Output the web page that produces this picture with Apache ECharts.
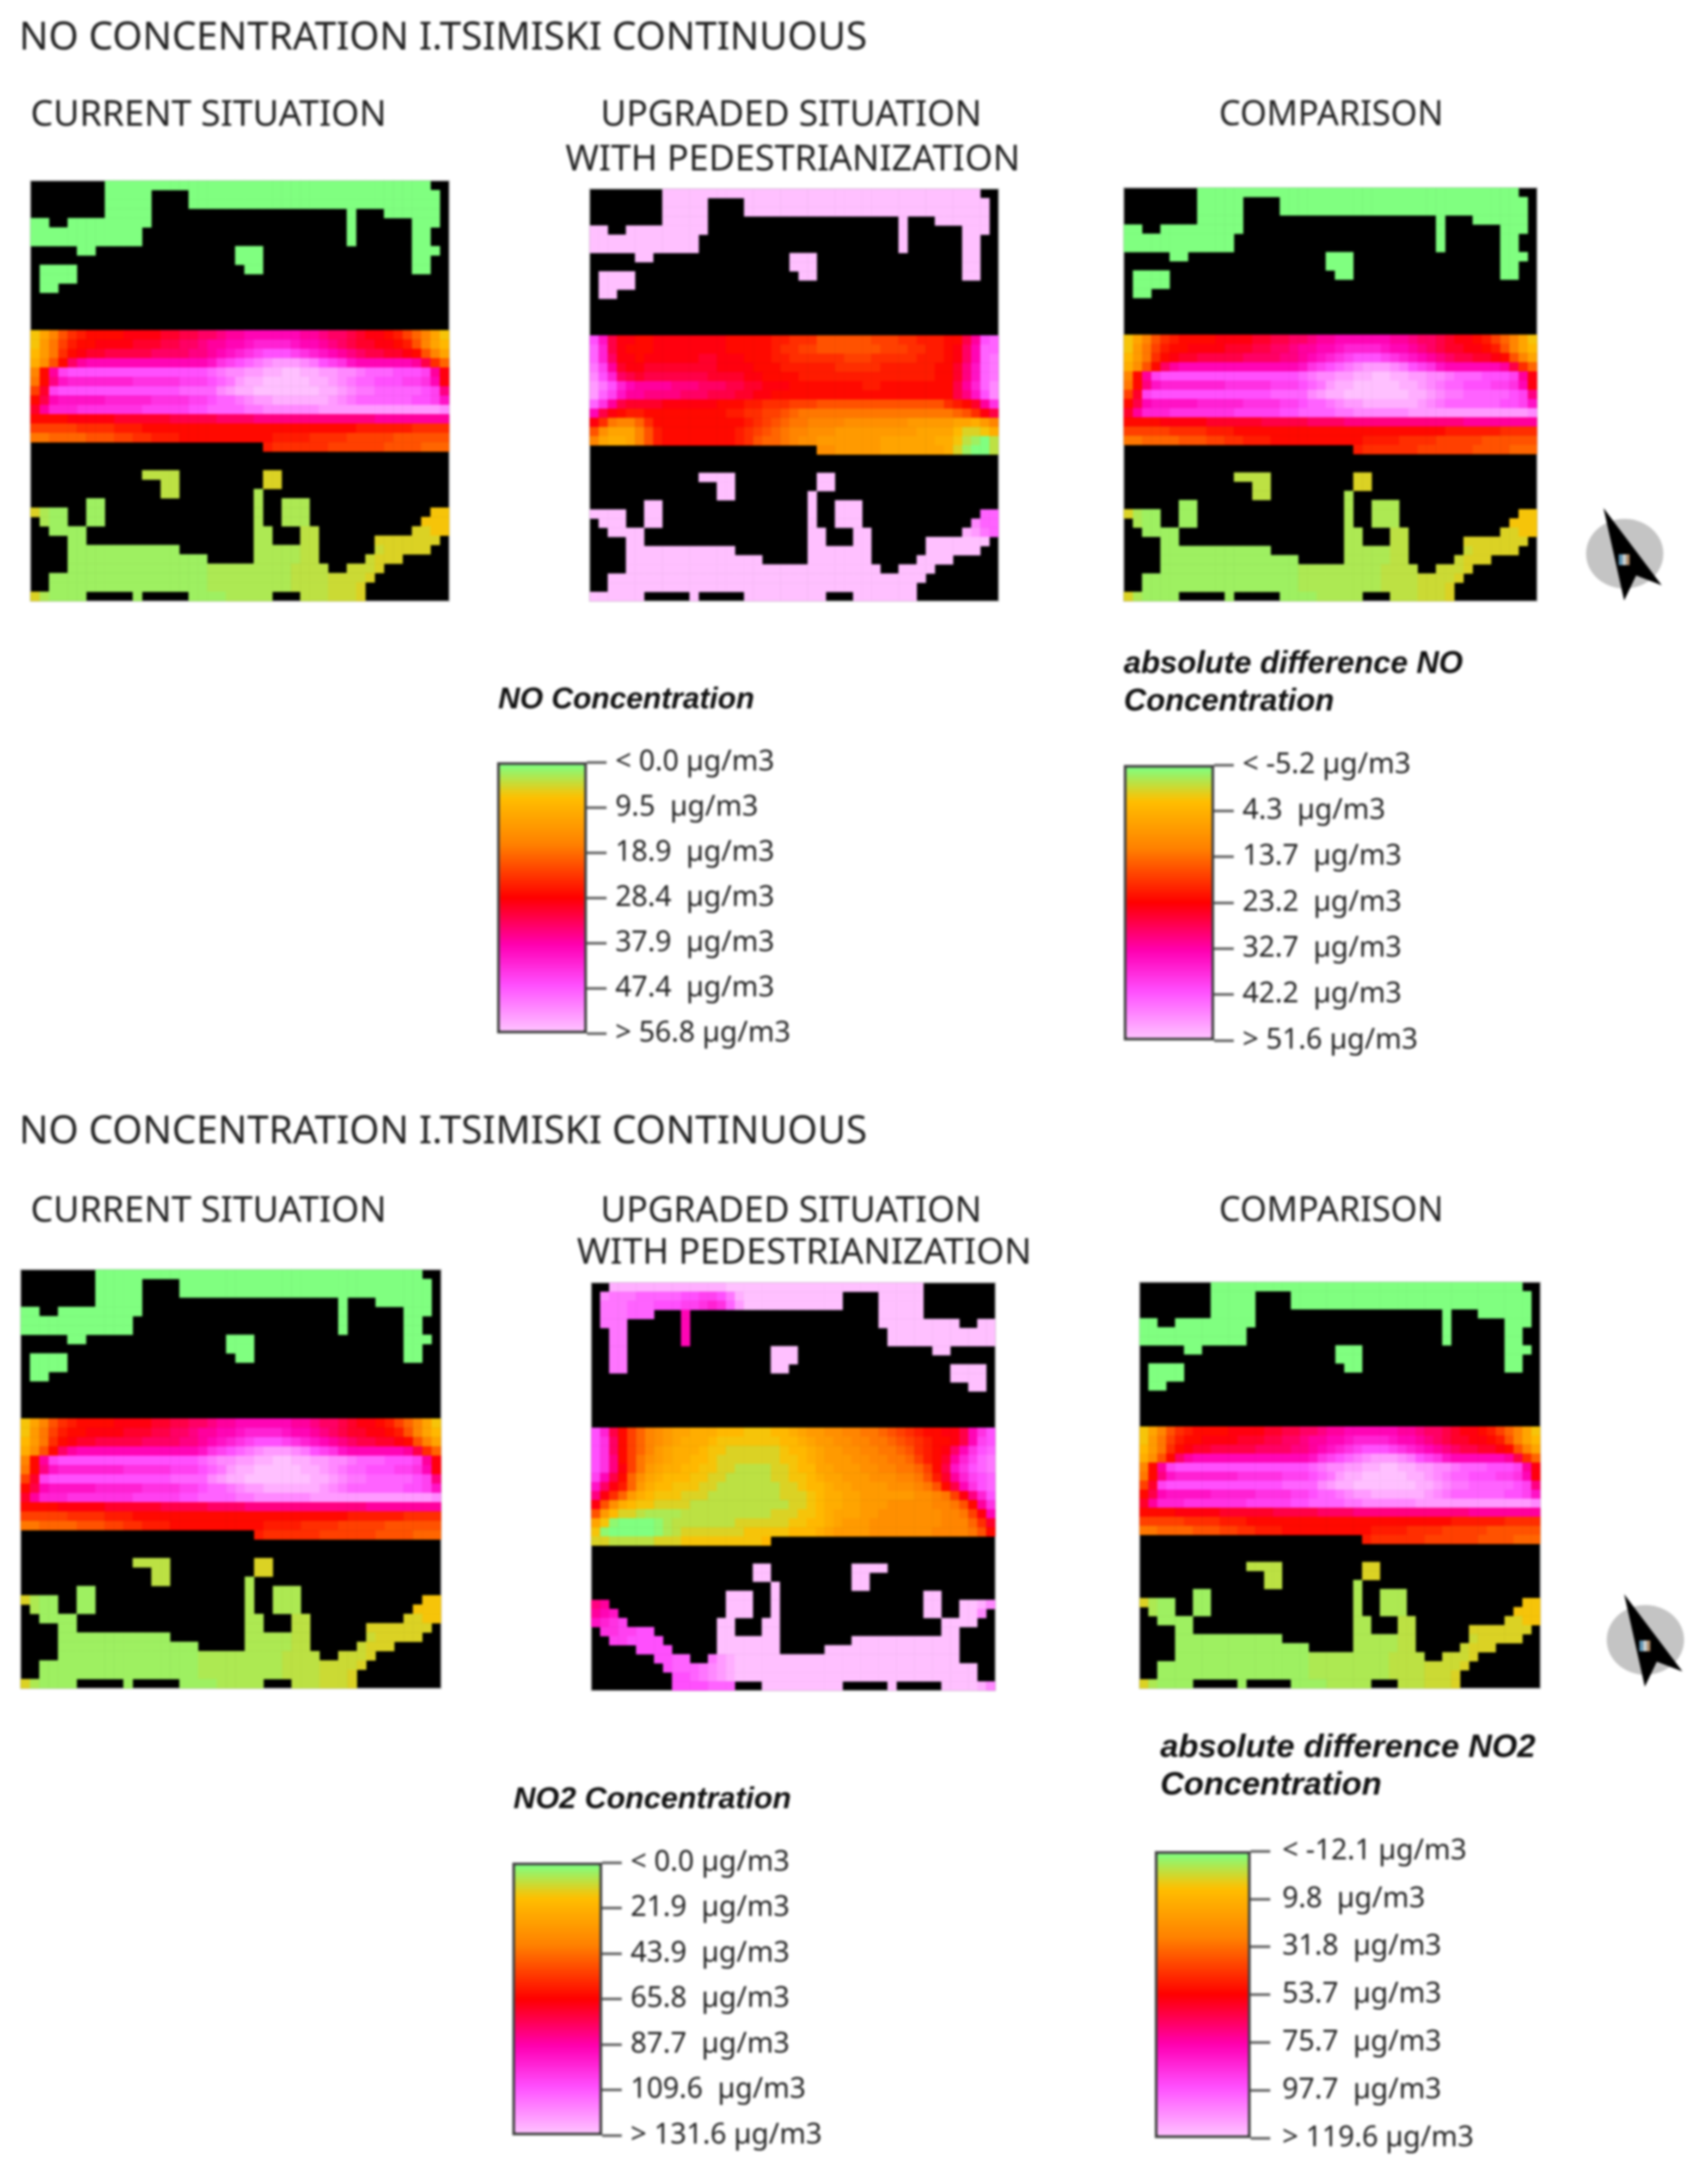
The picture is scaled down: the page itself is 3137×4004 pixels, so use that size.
<!DOCTYPE html>
<html>
<head>
<meta charset="utf-8">
<title>NO and NO2 concentration I.Tsimiski</title>
<script src="https://cdn.jsdelivr.net/npm/echarts@6/dist/echarts.min.js"></script>
<style>
  html, body { margin: 0; background: #fff; }
  #main { width: 3137px; height: 4004px; filter: blur(2.2px); }
</style>
</head>
<body>
<div id="main"></div>
<script>
// legend breaks, as printed next to each colour key
const noTicks = [0.0, 9.5, 18.9, 28.4, 37.9, 47.4, 56.8]
const noLabels = ['< 0.0 µg/m3', '9.5  µg/m3', '18.9  µg/m3', '28.4  µg/m3', '37.9  µg/m3', '47.4  µg/m3', '> 56.8 µg/m3']
const noDiffTicks = [-5.2, 4.3, 13.7, 23.2, 32.7, 42.2, 51.6]
const noDiffLabels = ['< -5.2 µg/m3', '4.3  µg/m3', '13.7  µg/m3', '23.2  µg/m3', '32.7  µg/m3', '42.2  µg/m3', '> 51.6 µg/m3']
const no2Ticks = [0.0, 21.9, 43.9, 65.8, 87.7, 109.6, 131.6]
const no2Labels = ['< 0.0 µg/m3', '21.9  µg/m3', '43.9  µg/m3', '65.8  µg/m3', '87.7  µg/m3', '109.6  µg/m3', '> 131.6 µg/m3']
const no2DiffTicks = [-12.1, 9.8, 31.8, 53.7, 75.7, 97.7, 119.6]
const no2DiffLabels = ['< -12.1 µg/m3', '9.8  µg/m3', '31.8  µg/m3', '53.7  µg/m3', '75.7  µg/m3', '97.7  µg/m3', '> 119.6 µg/m3']

// cells, 45 x 45, top row first.
// '.' = building (no result), 0-9a-z = position on the colour scale, 0 = lowest, z = highest
// A-D = half steps at the green end, where one step is a big change of colour
const currentCells = [
  '..... ...00 00000 00000 00000 00000 00000 00000 000..',
  '..... ...00 000.. ..000 00000 00000 00000 00000 0000.',
  '..... ...00 000.. ..000 00000 00000 00000 00000 0000.',
  '..... ...00 000.. ..... ..... ..... ....0 ...00 0000.',
  '00..0 00000 000.. ..... ..... ..... ....0 ..... .000.',
  '00000 00000 00... ..... ..... ..... ....0 ..... .00..',
  '00000 00000 00... ..... ..... ..... ....0 ..... .00..',
  '..... 00... ..... ..... ..000 ..... ..... ..... .000.',
  '..... ..... ..... ..... ..000 ..... ..... ..... .00..',
  '.0000 ..... ..... ..... ...00 ..... ..... ..... .00..',
  '.0000 ..... ..... ..... ..... ..... ..... ..... .....',
  '.00.. ..... ..... ..... ..... ..... ..... ..... .....',
  '..... ..... ..... ..... ..... ..... ..... ..... .....',
  '..... ..... ..... ..... ..... ..... ..... ..... .....',
  '..... ..... ..... ..... ..... ..... ..... ..... .....',
  '..... ..... ..... ..... ..... ..... ..... ..... .....',
  '47adf ghhhh iiiij jkkll mnnoo oooon nmllk jiihg eca74',
  '48beg hhiii ijjjk kllmn noopq qqqpo onmlk jjiih gda75',
  '58bfh ijjkk kkkll llmmn opqrs tttsr qponm lkkjj ihda7',
  '69dhl noooo ooooo oooop rstuv wxxxw vtsrp ooooo onkfc',
  'ahnst ttttt ttttt ttttu vwwxx yyzzy yxxww vuuut ttsni',
  'bhmpq qqqqq qrrrr rssst uvxyy zzzzz yyxwv uuttt ssroi',
  'ejstt ttttt ttttt tuuuu wxyyz zzzzz zyyxw vvuuu uutsm',
  'hkopp pppqq qqqrr rrsst uuvwx xyyyy yyxwv uuuuu uttsp',
  'jnqqq rrrrr rrsss ssttu uuuvv wwwww wxxxx xxxxx xxxxw',
  'hhhhi iiiij jjjjj kkkkk llllm mmmmm mmmmm mmnnn nnnnn',
  'eeeee ffffg gghhh hhhhh hhhhh hhhhh hhhhh ggggg gffff',
  'bbccc cddde effgg ghhhh hhhhh hgggg ffffe eeeed ddddd',
  '..... ..... ..... ..... ..... gffff ffeee eeedd ddccc',
  '..... ..... ..... ..... ..... ..... ..... ..... .....',
  '..... ..... ..... ..... ..... ..... ..... ..... .....',
  '..... ..... ..222 2.... ..... 33... ..... ..... .....',
  '..... ..... ....2 2.... ..... 33... ..... ..... .....',
  '..... ..... ....2 2.... ....B ..... ..... ..... .....',
  '..... .11.. ..... ..... ....B ..BBB ..... ..... .....',
  '3B11. .11.. ..... ..... ....B ..BBB ..... ..... ...44',
  '.B11. .11.. ..... ..... ....B ..BBB ..... ..... ..444',
  '..111 1.... ..... ..... ....B B...2 2.... ..... .3344',
  '....1 1.... ..... ..... ....B B...2 2.... ..333 3333.',
  '....1 11111 11111 1.... ....B BBBB2 2.... ..C33 333..',
  '....1 11111 11111 1111. ....B BBBB2 2.... .C333 .....',
  '....1 11111 11111 1111B BBBBB BBB22 22..C CC3.. .....',
  '..111 11111 11111 1111B BBBBB BBB22 22CCC C3... .....',
  '..111 11111 11111 1111B BBBBB BBB22 22CCC 3.... .....',
  '3B111 1.... .1... ..111 1BBBB B...2 22CCC 3.... .....'
]

const noUpgradedCells = [
  '..... ...zz zzzzz zzzzz zzzzz zzzzz zzzzz zzzzz zzz..',
  '..... ...zz zzz.. ..zzz zzzzz zzzzz zzzzz zzzzz zzzz.',
  '..... ...zz zzz.. ..zzz zzzzz zzzzz zzzzz zzzzz zzzz.',
  '..... ...zz zzz.. ..... ..... ..... ....z ...zz zzzz.',
  'zz..z zzzzz zzz.. ..... ..... ..... ....z ..... .zzz.',
  'zzzzz zzzzz zz... ..... ..... ..... ....z ..... .zz..',
  'zzzzz zzzzz zz... ..... ..... ..... ....z ..... .zz..',
  '..... zz... ..... ..... ..zzz ..... ..... ..... .zz..',
  '..... ..... ..... ..... ..zzz ..... ..... ..... .zz..',
  '.zzzz ..... ..... ..... ...zz ..... ..... ..... .zz..',
  '.zzzz ..... ..... ..... ..... ..... ..... ..... .....',
  '.zz.. ..... ..... ..... ..... ..... ..... ..... .....',
  '..... ..... ..... ..... ..... ..... ..... ..... .....',
  '..... ..... ..... ..... ..... ..... ..... ..... .....',
  '..... ..... ..... ..... ..... ..... ..... ..... .....',
  '..... ..... ..... ..... ..... ..... ..... ..... .....',
  'tpkii hhiii iiiii hhhhh ggfff ddddd deeef fgggh hkntu',
  'uqkih hhiii iiiii hhhhh gffee ddddd ddeee ffggh ilouu',
  'uqlii hiiii iijji iihhh ggfff fffee effff fgggh ilouv',
  'vsnji ijjjj jjjji iiihh hgggg ggfff ffggg ggghh jmpuv',
  'wtqlk jkkkk kkkjj jjiih hhhgg ggggg ggggg ggghh jmpuv',
  'xvtqo nnnnm mmlll kkjji iihhh hhhhh gghhh hhhhh knquw',
  'xuspn nmmmm lllkk kjjii hhhhh hhhhh hhhhh hhhhh kmptw',
  'urnkj jjjii iiiih hhggf ffeee ddddd ddddd ddddf ghjnr',
  'okihg ghhhh hhhhh ggffe edcbb bbbbb bbbbb bbbbb cdfik',
  'ifbaa cfhhh hhhhh hhgfe dcbba aaa99 99999 88888 7768a',
  'd9777 adghh hhhhh hgfed cbaa9 99888 88888 87777 53346',
  'a7667 adghh hhhhh hgfdc cba99 88888 88777 77766 42102',
  '..... ..... ..... ..... ..... 99888 88777 77776 31002',
  '..... ..... ..... ..... ..... ..... ..... ..... .....',
  '..... ..... ..... ..... ..... ..... ..... ..... .....',
  '..... ..... ..zzz z.... ..... zz... ..... ..... .....',
  '..... ..... ....z z.... ..... zz... ..... ..... .....',
  '..... ..... ....z z.... ....z ..... ..... ..... .....',
  '..... .zz.. ..... ..... ....z ..zzz ..... ..... .....',
  'zzzz. .zz.. ..... ..... ....z ..zzz ..... ..... ...uu',
  '.zzz. .zz.. ..... ..... ....z ..zzz ..... ..... ..wuu',
  '..zzz z.... ..... ..... ....z z...z z.... ..... .yxvu',
  '....z z.... ..... ..... ....z z...z z.... ..zzz zzzz.',
  '....z zzzzz zzzzz z.... ....z zzzzz z.... ..zzz zzz..',
  '....z zzzzz zzzzz zzzz. ....z zzzzz z.... .zzzz .....',
  '....z zzzzz zzzzz zzzzz zzzzz zzzzz zz..z zzz.. .....',
  '..zzz zzzzz zzzzz zzzzz zzzzz zzzzz zzzzz zz... .....',
  '..zzz zzzzz zzzzz zzzzz zzzzz zzzzz zzzzz z.... .....',
  'zzzzz z.... .z... ..zzz zzzzz z...z zzzzz z.... .....'
]

const no2UpgradedCells = [
  '..yyy yyyyy yyyyy zzzzz zzzzz zzzzz zzzzz zz... .....',
  '.wvvv uuuuu ttsst vyzzz zzzzz zzz.. ..zzz zz... .....',
  '.vvvu uuttt ssrqr uxzzz zzzzz zzz.. ..zzz zz... .....',
  '.vvvu uu... o.... ..... ..... ..... ..zzz zz... .....',
  '.vvv. ..... o.... ..... ..... ..... ..zzz zzzzz z..zz',
  '..vv. ..... o.... ..... ..... ..... ...zz zzzzz zzzzz',
  '..vv. ..... o.... ..... ..... ..... ...zz zzzzz zzzzz',
  '..vv. ..... ..... ..... zzz.. ..... ..... ...zz .....',
  '..vv. ..... ..... ..... zzz.. ..... ..... ..... .....',
  '..vv. ..... ..... ..... zz... ..... ..... ..... zzzz.',
  '..... ..... ..... ..... ..... ..... ..... ..... zzzz.',
  '..... ..... ..... ..... ..... ..... ..... ..... ..zz.',
  '..... ..... ..... ..... ..... ..... ..... ..... .....',
  '..... ..... ..... ..... ..... ..... ..... ..... .....',
  '..... ..... ..... ..... ..... ..... ..... ..... .....',
  '..... ..... ..... ..... ..... ..... ..... ..... .....',
  'tqkhe ca987 76665 55444 55678 899aa bbcde fghhi ikort',
  'trlhe ca987 66654 44444 45567 8899a abbcd efghh ikost',
  'trlhe ca876 66544 33333 34556 78899 aabbc dfghi lortu',
  'trmhe b9876 65543 33333 34456 78889 9aabb ceghj nqsuv',
  'trmie b8766 55443 32222 33455 77888 99aab bcehk prtuv',
  'sokhc 97655 54433 22222 33445 67788 8999a abdgj nqstu',
  'pligc 86554 44332 22222 23345 56778 88899 9abdh kortu',
  'mifc8 65444 33322 22222 23334 56677 88888 899ab eimqt',
  'id965 44333 32222 22222 22334 56677 88899 999aa bdhnr',
  'd8533 2BBBB 22222 22222 33344 56777 88999 9999a abeio',
  '74A00 00AB2 22222 23333 33445 56788 89999 9999a aacfj',
  '4A000 00AB2 33333 33444 44555 67888 89999 999aa aabdh',
  '33222 22333 44444 44445 ..... ..... ..... ..... .....',
  '..... ..... ..... ..... ..... ..... ..... ..... .....',
  '..... ..... ..... ..... ..... ..... ..... ..... .....',
  '..... ..... ..... ...zz ..... ....z zzz.. ..... .....',
  '..... ..... ..... ...zz ..... ....z z.... ..... .....',
  '..... ..... ..... ..... z.... ....z z.... ..... .....',
  '..... ..... ..... zzz.. z.... ..... ..... ..zz. .....',
  'mn... ..... ..... zzz.. z.... ..... ..... ..zz. .zzyw',
  'nop.. ..... ..... zzz.. z.... ..... ..... ..zz. .zzw.',
  'pqrs. ..... ....z z...z z.... ..... ..... ....z zzz..',
  '.rrss tt... ....z z...z z.... ..... ..... ....z z....',
  '..sst ttt.. ....z zzzzz z.... ....z zzzzz zzzzz z....',
  '..... tttt. ....z zzzzz z.... .zzzz zzzzz zzzzz z....',
  '..... ..ttu u..vx yzzzz zzzzz zzzzz zzzzz zzzzz z....',
  '..... ...tu uuvwx yzzzz zzzzz zzzzz zzzzz zzzzz zzz..',
  '..... ....t tuvwx yzzzz zzzzz zzzzz zzzzz zzzzz zzz..',
  '..... ....t tttuu u...z zzzzz zzz.. ...z. ....z zzzyw'
]

const halfSteps = { A: 0.5, B: 1.5, C: 2.5, D: 3.5 }

const rampStops = [
  [0, [128, 255, 128]], [0.12, [255, 192, 0]], [0.3, [255, 128, 0]], [0.5, [255, 0, 0]],
  [0.68, [255, 0, 180]], [0.83, [255, 80, 255]], [1, [255, 192, 255]]
]

function rampColors(n) {
  const out = []
  for (let i = 0; i <= n; i++) {
    const t = i / n
    let k = 0
    while (k < rampStops.length - 2 && t > rampStops[k + 1][0]) k++
    const a = rampStops[k], b = rampStops[k + 1]
    const f = (t - a[0]) / (b[0] - a[0])
    const c = a[1].map((v, j) => Math.round(v + (b[1][j] - v) * f))
    out.push('rgb(' + c.join(',') + ')')
  }
  return out
}

function cellsToData(rows, ticks) {
  const lo = ticks[0], hi = ticks[ticks.length - 1]
  const data = []
  rows.forEach((row, y) => {
    const codes = row.replace(/ /g, '')
    for (let x = 0; x < codes.length; x++) {
      if (codes[x] === '.') continue
      const step = codes[x] in halfSteps ? halfSteps[codes[x]] : parseInt(codes[x], 36)
      data.push([x, y, +(lo + step / 35 * (hi - lo)).toFixed(2)])
    }
  })
  return data
}

const FONT = '"Noto Sans", sans-serif'
const TEXT = '#222'
const idx = Array.from({ length: 45 }, (_, i) => i)

const panels = [
  { rect: [56, 332, 769, 772], cells: currentCells, ticks: noTicks, key: 0 },
  { rect: [1083, 347, 751, 757], cells: noUpgradedCells, ticks: noTicks, key: 0 },
  { rect: [2064, 345, 759, 759], cells: currentCells, ticks: noDiffTicks, key: 1 },
  { rect: [38, 2332, 772, 769], cells: currentCells, ticks: no2Ticks, key: 2 },
  { rect: [1086, 2356, 742, 749], cells: no2UpgradedCells, ticks: no2Ticks, key: 2 },
  { rect: [2093, 2355, 736, 746], cells: currentCells, ticks: no2DiffTicks, key: 3 }
]

const keys = [
  { rect: [913, 1400, 165, 498], ticks: noTicks, labels: noLabels, gap: 16 },
  { rect: [2064, 1405, 166, 506], ticks: noDiffTicks, labels: noDiffLabels, gap: 16 },
  { rect: [941, 3421, 165, 501], ticks: no2Ticks, labels: no2Labels, gap: 16 },
  { rect: [2121, 3400, 176, 527], ticks: no2DiffTicks, labels: no2DiffLabels, gap: 22 }
]

const KEY_BORDER = 5
const TICK_LEN = 36

const grid = [], xAxis = [], yAxis = [], series = []

panels.forEach((p, i) => {
  grid.push({
    left: p.rect[0], top: p.rect[1], width: p.rect[2], height: p.rect[3],
    show: true, backgroundColor: '#000', borderColor: '#aaa', borderWidth: 2
  })
  xAxis.push({ type: 'category', gridIndex: i, data: idx, show: false })
  yAxis.push({ type: 'category', gridIndex: i, data: idx, inverse: true, show: false })
  series.push({
    type: 'heatmap', xAxisIndex: i, yAxisIndex: i, silent: true, animation: false,
    progressive: 0, data: cellsToData(p.cells, p.ticks)
  })
})

const visualMap = keys.map((k, i) => ({
  type: 'continuous',
  min: k.ticks[0],
  max: k.ticks[6],
  dimension: 2,
  seriesIndex: panels.map((p, j) => (p.key === i ? j : -1)).filter(j => j >= 0),
  inRange: { color: rampColors(40) },
  inverse: true,
  hoverLink: false,
  calculable: false,
  orient: 'vertical',
  left: k.rect[0],
  top: k.rect[1],
  itemWidth: k.rect[2] - 2 * KEY_BORDER,
  itemHeight: k.rect[3] - 2 * KEY_BORDER,
  padding: 0,
  borderColor: '#444',
  borderWidth: 2 * KEY_BORDER,
  text: null
}))

// key axes count the printed breaks, 0 to 6, the breaks sit at even steps.
// the little grid right of the bar is only as wide as a tick, its split lines are the ticks
keys.forEach((k, i) => {
  const g = panels.length + i
  grid.push({ left: k.rect[0] + k.rect[2], top: k.rect[1], width: TICK_LEN, height: k.rect[3] })
  xAxis.push({ type: 'value', gridIndex: g, show: false })
  yAxis.push({
    type: 'value',
    gridIndex: g,
    position: 'right',
    inverse: true,
    min: 0,
    max: 6,
    interval: 1,
    splitLine: { show: true, lineStyle: { color: '#666', width: 5 } },
    axisLine: { show: false },
    axisTick: { show: false },
    axisLabel: {
      show: true,
      margin: k.gap,
      fontFamily: FONT,
      fontSize: 52,
      color: TEXT,
      formatter: v => k.labels[v]
    }
  })
})

function heading(text, x, y, align, size) {
  return {
    text,
    left: x,
    top: y,
    padding: 0,
    textAlign: align,
    textVerticalAlign: 'middle',
    textStyle: { fontFamily: FONT, fontSize: size, fontWeight: 'normal', color: TEXT }
  }
}

function keyHeading(text, x, y, size) {
  return {
    text,
    left: x,
    top: y,
    padding: 0,
    textAlign: 'left',
    textVerticalAlign: 'middle',
    textStyle: {
      fontFamily: '"Liberation Sans", sans-serif',
      fontStyle: 'italic',
      fontWeight: 'bold',
      fontSize: size,
      color: '#111'
    }
  }
}

const title = [
  heading('NO CONCENTRATION I.TSIMISKI CONTINUOUS', 35, 71, 'left', 71),
  heading('CURRENT SITUATION', 56, 212, 'left', 66),
  heading('UPGRADED SITUATION', 1453, 212, 'center', 65),
  heading('WITH PEDESTRIANIZATION', 1456, 294, 'center', 66),
  heading('COMPARISON', 2445, 212, 'center', 63),
  keyHeading('NO Concentration', 915, 1286, 55),
  keyHeading('absolute difference NO', 2064, 1220, 57),
  keyHeading('Concentration', 2064, 1289, 57),
  heading('NO CONCENTRATION I.TSIMISKI CONTINUOUS', 35, 2080, 'left', 71),
  heading('CURRENT SITUATION', 56, 2225, 'left', 66),
  heading('UPGRADED SITUATION', 1453, 2225, 'center', 65),
  heading('WITH PEDESTRIANIZATION', 1477, 2302, 'center', 66),
  heading('COMPARISON', 2445, 2225, 'center', 63),
  keyHeading('NO2 Concentration', 943, 3306, 56),
  keyHeading('absolute difference NO2', 2131, 3210, 60),
  keyHeading('Concentration', 2131, 3279, 60)
]

function northArrow(dx, dy) {
  return {
    type: 'group',
    x: dx,
    y: dy,
    children: [
      { type: 'ellipse', shape: { cx: 2984, cy: 1017, rx: 71, ry: 64 }, style: { fill: '#c4c4c4' } },
      {
        type: 'polygon',
        shape: { points: [[2945, 933], [3052, 1075], [3005, 1057], [2983, 1103]] },
        style: { fill: '#000' }
      },
      { type: 'rect', shape: { x: 2973, y: 1018, width: 7, height: 20 }, style: { fill: '#5f94b4' } },
      { type: 'rect', shape: { x: 2980, y: 1018, width: 7, height: 20 }, style: { fill: '#c8cfd0' } },
      { type: 'rect', shape: { x: 2987, y: 1018, width: 6, height: 20 }, style: { fill: '#b08c68' } }
    ]
  }
}

const chart = echarts.init(document.getElementById('main'))
chart.setOption({
  animation: false,
  backgroundColor: '#fff',
  title,
  grid,
  xAxis,
  yAxis,
  visualMap,
  series,
  graphic: { elements: [northArrow(0, 0), northArrow(38, 1995)] }
})
</script>
</body>
</html>
